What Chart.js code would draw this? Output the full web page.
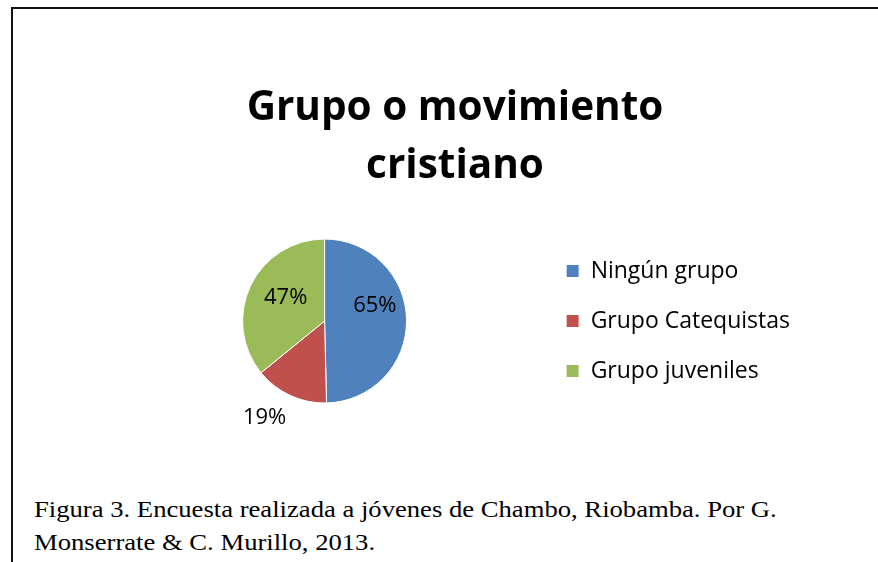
<!DOCTYPE html>
<html>
<head>
<meta charset="utf-8">
<script src="https://cdn.jsdelivr.net/npm/chart.js@4.4.1/dist/chart.umd.min.js"></script>
<style>
  html, body { margin: 0; padding: 0; background: #fff; overflow: hidden; width: 878px; height: 562px; }
  .frame { position: absolute; left: 11px; top: 7px; width: 900px; height: 600px; border-top: 2px solid #111; border-left: 2px solid #111; }
  .wrap { position: absolute; left: 12px; top: 8px; width: 886px; height: 480px; }
  .caption { position: absolute; left: 34px; top: 493px; font-family: "Liberation Serif", "Times New Roman", serif; font-size: 24px; line-height: 33px; color: #000; white-space: nowrap; transform: scaleX(1.11); transform-origin: left top; }
</style>
</head>
<body>
<div class="frame"></div>
<div class="wrap"><canvas id="chart"></canvas></div>
<div class="caption">Figura 3. Encuesta realizada a jóvenes de Chambo, Riobamba. Por G.<br>Monserrate &amp; C. Murillo, 2013.</div>
<script>
const categories = ['Ningún grupo', 'Grupo Catequistas', 'Grupo juveniles']
const values = [65, 19, 47]
const colors = ['#4F81BD', '#C0504D', '#9BBB59']
const titleLines = ['Grupo o movimiento', 'cristiano']

// label placement: fraction of radius and angle shift (deg) per slice
const labelRadius = [0.64, 1.39, 0.55]
const labelShift = [-16, 7, 5]

const sliceLabels = {
    id: 'sliceLabels',
    afterDatasetsDraw(chart) {
        const ctx = chart.ctx
        const meta = chart.getDatasetMeta(0)
        ctx.save()
        ctx.font = '22px "Open Sans"'
        ctx.fillStyle = '#000'
        ctx.textAlign = 'center'
        ctx.textBaseline = 'middle'
        meta.data.forEach((arc, i) => {
            const mid = (arc.startAngle + arc.endAngle) / 2 + labelShift[i] * Math.PI / 180
            const r = arc.outerRadius * labelRadius[i]
            ctx.fillText(values[i] + '%', arc.x + Math.cos(mid) * r, arc.y + Math.sin(mid) * r)
        })
        ctx.restore()
    }
}

new Chart(document.getElementById('chart'), {
    type: 'pie',
    data: {
        labels: categories,
        datasets: [{
            data: values,
            backgroundColor: colors,
            borderColor: '#fff',
            borderWidth: 1,
            radius: 82
        }]
    },
    options: {
        responsive: true,
        maintainAspectRatio: false,
        animation: false,
        layout: { padding: { left: 98, right: 98, top: 0, bottom: 46 } },
        plugins: {
            title: {
                display: true,
                text: titleLines,
                color: '#000',
                font: { family: '"Open Sans"', size: 40.5, weight: 'bold', lineHeight: 58 / 40.5 },
                padding: { top: 71, bottom: 5 }
            },
            legend: {
                position: 'right',
                fullSize: false,
                labels: {
                    boxWidth: 13,
                    boxHeight: 13,
                    padding: 27,
                    color: '#000',
                    font: { family: '"Open Sans"', size: 23 }
                }
            },
            tooltip: { enabled: false }
        }
    },
    plugins: [sliceLabels]
})
</script>
</body>
</html>
